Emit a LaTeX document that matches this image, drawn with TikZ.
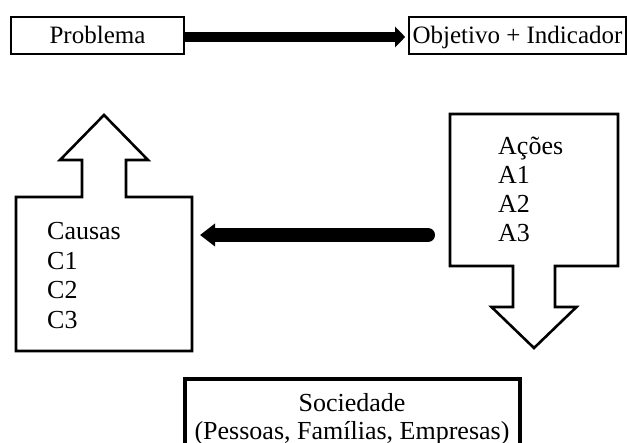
\documentclass[tikz,border=0pt]{standalone}
\usepackage{fontspec}
\setmainfont{Liberation Serif}
\usetikzlibrary{arrows.meta}
\begin{document}
\begin{tikzpicture}[x=1pt,y=-1pt,
  outline/.style={draw=black, line width=2.6pt, line join=miter},
  topbox/.style={outline, rectangle, inner sep=0pt,
    text height=17pt, text depth=0pt, font=\fontsize{25}{30}\selectfont},
  boxarea/.style={rectangle, inner sep=0pt, outer sep=0pt},
  listtext/.style={align=left, inner sep=0pt, anchor=base west,
    font=\fontsize{26}{29.5}\selectfont},
  bigarrow/.style={line width=#1, draw=black}
]
\useasboundingbox (0,0) rectangle (628,443);

% top row: problem leads to objective
\node[topbox, minimum width=173pt, minimum height=37pt] (prob) at (97.5,35.5) {Problema};
\node[topbox, minimum width=217pt, minimum height=37pt] (obj) at (517.5,35.5) {Objetivo + Indicador};
\draw[bigarrow=10pt, -{Triangle[length=10pt,width=20pt]}, shorten >=2.5pt]
  ([yshift=-1.5pt]prob.east) -- ([yshift=-1.5pt]obj.west);

% causes box with an upward block arrow
\node[boxarea, minimum width=176pt, minimum height=154pt] (cbox) at (104,274) {};
\draw[outline] (cbox.north west) -- (cbox.south west) -- (cbox.south east) -- (cbox.north east)
  -- ([xshift=22pt]cbox.north) -- ([xshift=22pt,yshift=37pt]cbox.north)
  -- ([xshift=44pt,yshift=37pt]cbox.north) -- ([yshift=82pt]cbox.north)
  -- ([xshift=-44pt,yshift=37pt]cbox.north) -- ([xshift=-22pt,yshift=37pt]cbox.north)
  -- ([xshift=-22pt]cbox.north) -- cycle;
\node[listtext] (ctext) at (47,328) {Causas\\C1\\C2\\C3};

% actions box with a downward block arrow
\node[boxarea, minimum width=168pt, minimum height=152pt] (abox) at (534,190) {};
\draw[outline] (abox.south east) -- (abox.north east) -- (abox.north west) -- (abox.south west)
  -- ([xshift=-21pt]abox.south) -- ([xshift=-21pt,yshift=-41pt]abox.south)
  -- ([xshift=-42.5pt,yshift=-41pt]abox.south) -- ([yshift=-82pt]abox.south)
  -- ([xshift=42.5pt,yshift=-41pt]abox.south) -- ([xshift=21pt,yshift=-41pt]abox.south)
  -- ([xshift=21pt]abox.south) -- cycle;
\node[listtext, font=\fontsize{26}{29}\selectfont] (atext) at (498,242) {Ações\\A1\\A2\\A3};

% actions act on the causes
\draw[bigarrow=14pt, line cap=round, -{Triangle[length=15pt,width=22pt]},
  shorten <=22pt, shorten >=8pt]
  ([yshift=-45pt]abox.west) -- ([yshift=-45pt]abox.west -| cbox.east);

% society box, running past the lower edge
\node[draw=black, line width=3.5pt, rectangle, inner sep=0pt, outer sep=0pt,
  minimum width=335pt, minimum height=100pt, anchor=north] (soc) at (352.5,379) {};
\node[align=center, inner sep=0pt, anchor=base, font=\fontsize{26}{28}\selectfont]
  (soctext) at (352,439) {Sociedade\\(Pessoas, Famílias, Empresas)};
\end{tikzpicture}
\end{document}
